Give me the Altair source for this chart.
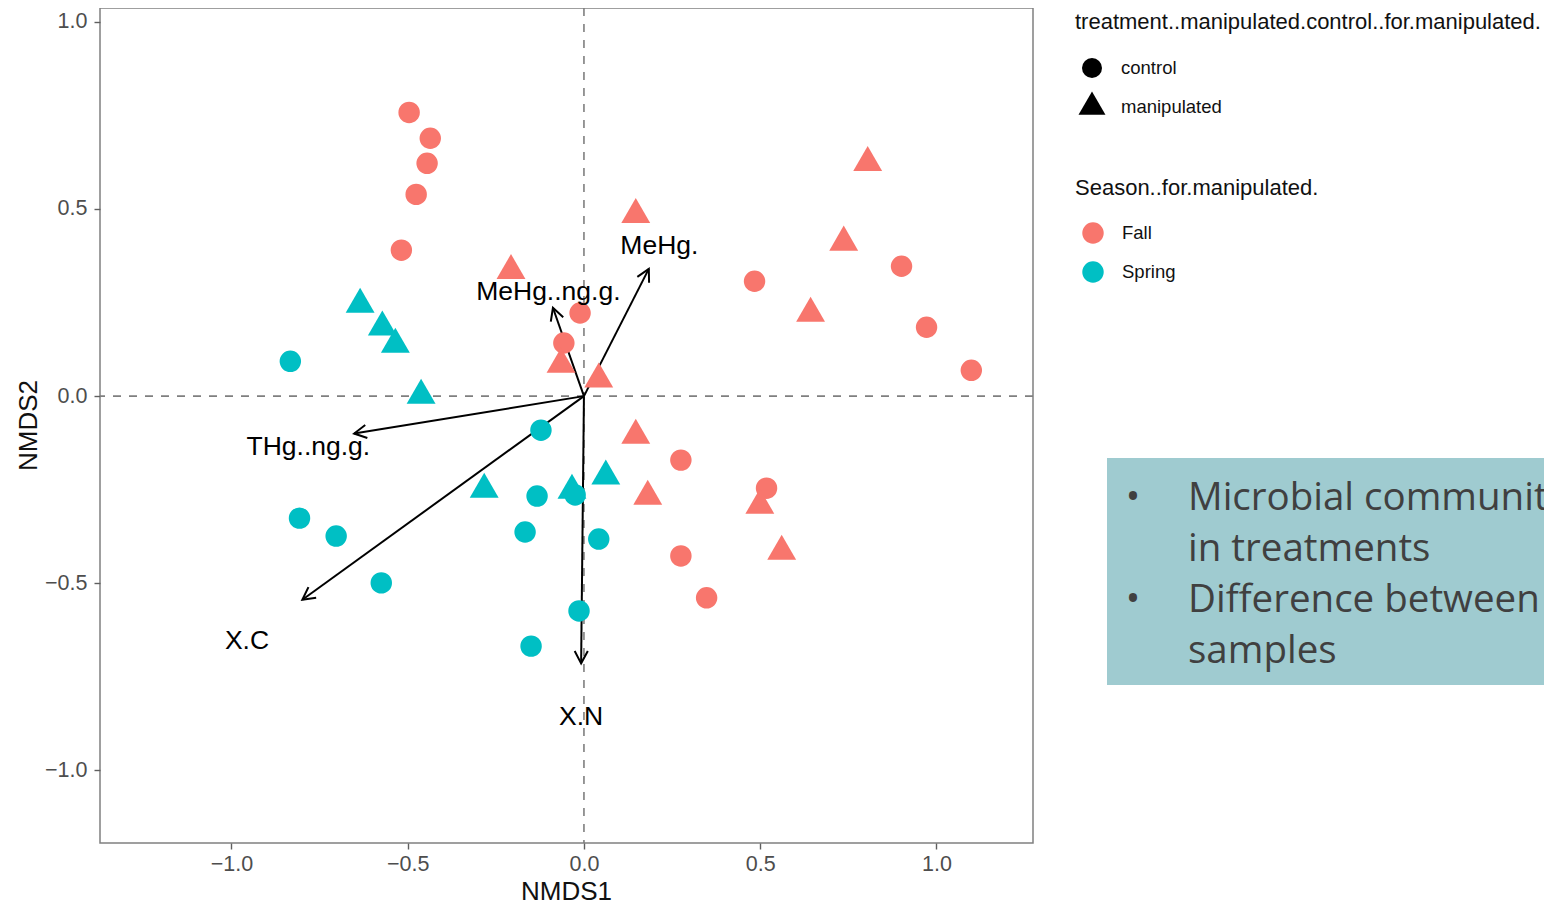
import math
import altair as alt
import pandas as pd

# ---------------- data ----------------
fall_ctrl_x = [-0.496, -0.436, -0.445, -0.476, -0.518, -0.011, -0.057, 0.484, 0.901, 0.972, 1.099, 0.275, 0.518, 0.275, 0.348]
fall_ctrl_y = [0.758, 0.689, 0.622, 0.539, 0.390, 0.222, 0.142, 0.307, 0.347, 0.184, 0.069, -0.171, -0.246, -0.427, -0.539]
fall_manip_x = [-0.207, 0.147, 0.805, 0.737, 0.643, -0.065, 0.042, 0.147, 0.181, 0.499, 0.561]
fall_manip_y = [0.335, 0.485, 0.624, 0.411, 0.221, 0.085, 0.045, -0.105, -0.268, -0.292, -0.415]
spring_ctrl_x = [-0.833, -0.122, -0.807, -0.703, -0.575, -0.133, -0.025, -0.167, 0.042, -0.014, -0.150]
spring_ctrl_y = [0.093, -0.091, -0.326, -0.374, -0.499, -0.267, -0.264, -0.363, -0.382, -0.574, -0.668]
spring_manip_x = [-0.635, -0.572, -0.535, -0.462, -0.283, -0.034, 0.062]
spring_manip_y = [0.245, 0.184, 0.138, 0.002, -0.249, -0.252, -0.214]

env_names = ["MeHg.", "MeHg..ng.g.", "THg..ng.g.", "X.C", "X.N"]
env_x = [0.184, -0.088, -0.652, -0.799, -0.008]
env_y = [0.340, 0.236, -0.100, -0.544, -0.714]
env_label_x = [0.214, -0.101, -0.782, -0.956, -0.008]
env_label_y = [0.401, 0.277, -0.135, -0.653, -0.858]

seasons = ["Fall", "Spring"]
season_colors = ["#F8766D", "#00BFC4"]
treatments = ["control", "manipulated"]
tick_values = [-1.0, -0.5, 0.0, 0.5, 1.0]
box_lines = ["Microbial community", "in treatments", "Difference between", "samples"]

# ---------------- layout ----------------
W, H = 933, 835
XD = [-1.373, 1.274]
YD = [-1.194, 1.037]
PAD = {"left": 92, "top": 0, "right": 511, "bottom": 62}

FONT = "Liberation Sans"
TRI = "M0,-1.555L1.347,0.778L-1.347,0.778Z"
CHEVRON = "M-0.47,0.88L0,0L0.47,0.88"

# ---------------- tables ----------------
rows = []
for xs_, ys_, s, t in [
    (fall_ctrl_x, fall_ctrl_y, "Fall", "control"),
    (fall_manip_x, fall_manip_y, "Fall", "manipulated"),
    (spring_ctrl_x, spring_ctrl_y, "Spring", "control"),
    (spring_manip_x, spring_manip_y, "Spring", "manipulated"),
]:
    for a, b in zip(xs_, ys_):
        rows.append({"NMDS1": a, "NMDS2": b, "season": s, "treatment": t})
pts = pd.DataFrame(rows)

sx = W / (XD[1] - XD[0])
sy = H / (YD[1] - YD[0])
env = pd.DataFrame({
    "name": env_names,
    "x": env_x,
    "y": env_y,
    "x0": [0.0] * len(env_names),
    "y0": [0.0] * len(env_names),
    "lx": env_label_x,
    "ly": env_label_y,
})
env["angle"] = [(math.degrees(math.atan2(a * sx, b * sy)) + 360) % 360 for a, b in zip(env_x, env_y)]

one = pd.DataFrame({"z": [0.0]})

xs = alt.Scale(domain=XD, nice=False, zero=False)
ys = alt.Scale(domain=YD, nice=False, zero=False)

common_axis = dict(values=tick_values, format=".1f", grid=False, domain=False,
                   tickColor="#5f5f5f", tickSize=6, tickWidth=1.4,
                   labelFont=FONT, labelFontSize=21.5, labelColor="#4d4d4d",
                   titleFont=FONT, titleFontSize=26, titleFontWeight="normal",
                   titleColor="#111111", titleBaseline="middle")
xa = alt.Axis(title="NMDS1", titleX=466, titleY=48, labelPadding=4, **common_axis)
ya = alt.Axis(title="NMDS2", titleX=-72, titleY=417, titleAngle=270, labelPadding=7,
              **common_axis)

X = lambda f: alt.X(f, scale=xs, axis=xa)
Y = lambda f: alt.Y(f, scale=ys, axis=ya)

vline = alt.Chart(one).mark_rule(color="#7f7f7f", strokeWidth=1.6, strokeDash=[8, 8]).encode(
    x=X("z:Q"))
hline = alt.Chart(one).mark_rule(color="#7f7f7f", strokeWidth=1.6, strokeDash=[8, 8]).encode(
    y=Y("z:Q"))

legend_common = dict(orient="none", padding=0, titleFont=FONT, titleFontSize=22,
                     titleFontWeight="normal", titleColor="#111111", titleLimit=0,
                     labelFont=FONT, labelFontSize=18.5, labelColor="#111111", labelLimit=0,
                     symbolStrokeWidth=0, symbolOpacity=1)

points = alt.Chart(pts).mark_point(filled=True, size=460, opacity=1, strokeWidth=0).encode(
    x=X("NMDS1:Q"),
    y=Y("NMDS2:Q"),
    color=alt.Color("season:N",
                    scale=alt.Scale(domain=seasons, range=season_colors),
                    legend=alt.Legend(title="Season..for.manipulated.",
                                      legendX=975, legendY=170, titlePadding=22,
                                      symbolType="circle", symbolSize=460,
                                      rowPadding=17, symbolOffset=7, labelOffset=18,
                                      **legend_common)),
    shape=alt.Shape("treatment:N",
                    scale=alt.Scale(domain=treatments, range=["circle", TRI]),
                    legend=alt.Legend(title="treatment..manipulated.control..for.manipulated.",
                                      legendX=975, legendY=4, titlePadding=24,
                                      symbolSize=400, symbolFillColor="black",
                                      rowPadding=13, symbolOffset=7, labelOffset=19,
                                      **legend_common)),
)

arrows = alt.Chart(env).mark_rule(color="black", strokeWidth=2).encode(
    x=X("x0:Q"), y=Y("y0:Q"), x2="x:Q", y2="y:Q")

heads = alt.Chart(env).mark_point(shape=CHEVRON, filled=False, size=784, strokeWidth=2,
                                  color="black", opacity=1).encode(
    x=X("x:Q"), y=Y("y:Q"), angle=alt.Angle("angle:Q", scale=None))

labels = alt.Chart(env).mark_text(font=FONT, fontSize=26.5, color="black",
                                  align="center", baseline="middle").encode(
    x=X("lx:Q"), y=Y("ly:Q"), text="name:N")

box = alt.Chart(one).mark_rect(color="#9FCBD0").encode(
    x=alt.value(1007), x2=alt.value(1470), y=alt.value(450), y2=alt.value(677))

TF = "Open Sans"
def tline(txt, xpos, ypos, align="left"):
    return alt.Chart(one).mark_text(font=TF, fontSize=38.5, color="#404040", align=align,
                                    baseline="alphabetic").encode(
        x=alt.value(xpos), y=alt.value(ypos), text=alt.value(txt))

text_layers = [
    tline("•", 1033, 502, "center"),
    tline(box_lines[0], 1088, 502),
    tline(box_lines[1], 1088, 553),
    tline("•", 1033, 604, "center"),
    tline(box_lines[2], 1088, 604),
    tline(box_lines[3], 1088, 655),
]

chart = alt.layer(vline, hline, arrows, heads, points, labels, box, *text_layers).properties(
    width=W, height=H, padding=PAD,
    autosize=alt.AutoSizeParams(type="none"),
    background="white",
).configure_view(stroke="#808080", strokeWidth=1.5)

chart.save("out.html", embed_options={"renderer": "svg", "actions": False})
